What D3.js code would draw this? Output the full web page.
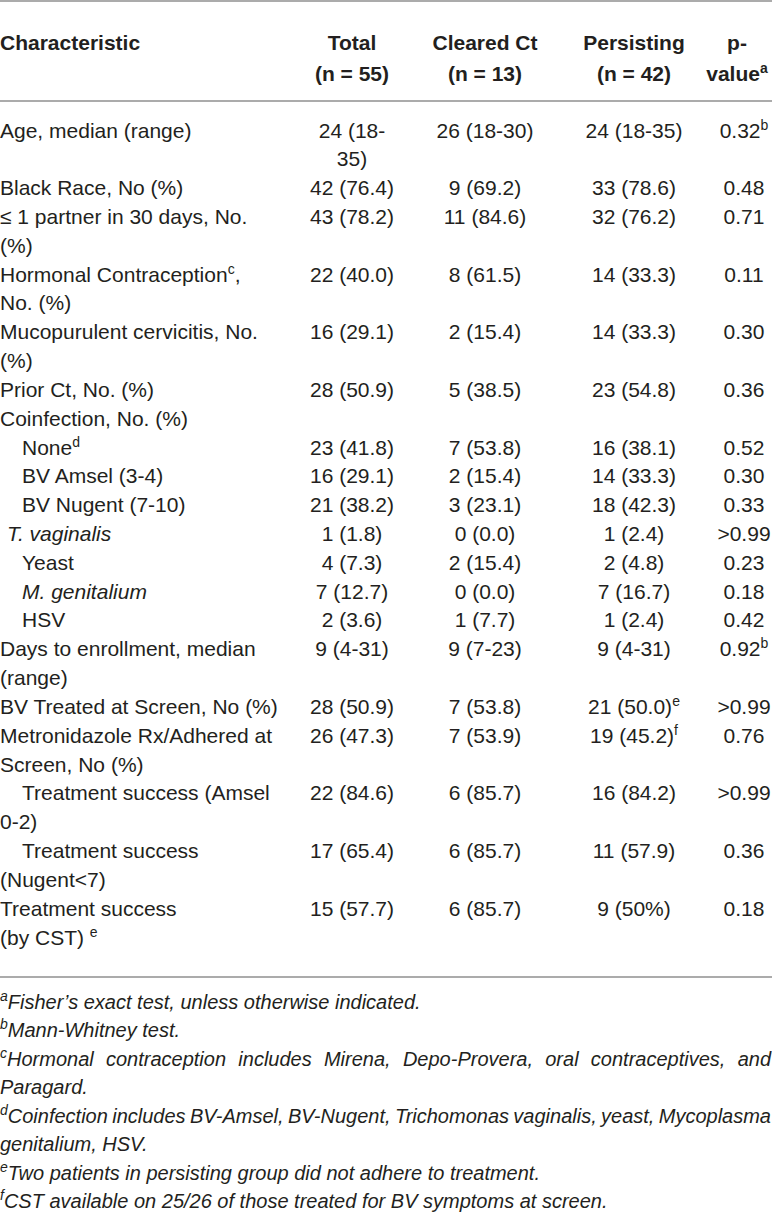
<!DOCTYPE html>
<html>
<head>
<meta charset="utf-8">
<script src="https://cdn.jsdelivr.net/npm/d3@7"></script>
<style>
  body { margin: 0; background: #fff; }
  text { font-family: "Liberation Sans", Arial, Helvetica, sans-serif; fill: #231f20; }
</style>
</head>
<body>
<div id="chart"></div>
<script>
// header cells, two lines each; "^x" marks a superscript
const headerTop = ["Characteristic", "Total", "Cleared Ct", "Persisting", "p-"];
const headerBottom = ["", "(n = 55)", "(n = 13)", "(n = 42)", "value^a"];

// row labels, already broken into the lines used in the table
const labels = [
  ["Age, median (range)"],
  ["Black Race, No (%)"],
  ["\u2264 1 partner in 30 days, No.", "(%)"],
  ["Hormonal Contraception^c,", "No. (%)"],
  ["Mucopurulent cervicitis, No.", "(%)"],
  ["Prior Ct, No. (%)"],
  ["Coinfection, No. (%)"],
  ["None^d"],
  ["BV Amsel (3-4)"],
  ["BV Nugent (7-10)"],
  ["T. vaginalis"],
  ["Yeast"],
  ["M. genitalium"],
  ["HSV"],
  ["Days to enrollment, median", "(range)"],
  ["BV Treated at Screen, No (%)"],
  ["Metronidazole Rx/Adhered at", "Screen, No (%)"],
  ["Treatment success (Amsel", "0-2)"],
  ["Treatment success", "(Nugent<7)"],
  ["Treatment success", "(by CST) ^e"]
];
// indent of the first label line: 0 none, 1 small, 2 sub-item
const indents = [0, 0, 0, 0, 0, 0, 0, 2, 2, 2, 1, 2, 2, 2, 0, 0, 0, 2, 2, 0];
const italicRows = [10, 12];

const totals = [["24 (18-", "35)"], "42 (76.4)", "43 (78.2)", "22 (40.0)", "16 (29.1)", "28 (50.9)", "",
  "23 (41.8)", "16 (29.1)", "21 (38.2)", "1 (1.8)", "4 (7.3)", "7 (12.7)", "2 (3.6)",
  "9 (4-31)", "28 (50.9)", "26 (47.3)", "22 (84.6)", "17 (65.4)", "15 (57.7)"];
const cleared = ["26 (18-30)", "9 (69.2)", "11 (84.6)", "8 (61.5)", "2 (15.4)", "5 (38.5)", "",
  "7 (53.8)", "2 (15.4)", "3 (23.1)", "0 (0.0)", "2 (15.4)", "0 (0.0)", "1 (7.7)",
  "9 (7-23)", "7 (53.8)", "7 (53.9)", "6 (85.7)", "6 (85.7)", "6 (85.7)"];
const persisting = ["24 (18-35)", "33 (78.6)", "32 (76.2)", "14 (33.3)", "14 (33.3)", "23 (54.8)", "",
  "16 (38.1)", "14 (33.3)", "18 (42.3)", "1 (2.4)", "2 (4.8)", "7 (16.7)", "1 (2.4)",
  "9 (4-31)", "21 (50.0)^e", "19 (45.2)^f", "16 (84.2)", "11 (57.9)", "9 (50%)"];
const pValues = ["0.32^b", "0.48", "0.71", "0.11", "0.30", "0.36", "",
  "0.52", "0.30", "0.33", ">0.99", "0.23", "0.18", "0.42",
  "0.92^b", ">0.99", "0.76", ">0.99", "0.36", "0.18"];

// footnotes, line by line; all lines but the last of a note are justified
const footnotes = [
  ["^aFisher\u2019s exact test, unless otherwise indicated."],
  ["^bMann-Whitney test."],
  ["^cHormonal contraception includes Mirena, Depo-Provera, oral contraceptives, and", "Paragard."],
  ["^dCoinfection includes BV-Amsel, BV-Nugent, Trichomonas vaginalis, yeast, Mycoplasma", "genitalium, HSV."],
  ["^eTwo patients in persisting group did not adhere to treatment."],
  ["^fCST available on 25/26 of those treated for BV symptoms at screen."]
];

const width = 772, height = 1212;
const svg = d3.select("#chart").append("svg").attr("width", width).attr("height", height);

const columns = ["label", "total", "cleared", "persisting", "p"];
const colX = d3.scaleOrdinal().domain(columns).range([0, 352, 485, 634, 744]);
const headX = d3.scaleOrdinal().domain(columns).range([0, 352, 485, 634, 737]);
const indentX = d3.scaleOrdinal().domain([0, 1, 2]).range([0, 7, 22]);

const asLines = v => Array.isArray(v) ? v : [v];

// lay out rows: each row takes as many lines as its tallest cell
let lineCursor = 0;
const rows = labels.map((lab, i) => {
  const cells = [lab, asLines(totals[i]), asLines(cleared[i]), asLines(persisting[i]), asLines(pValues[i])];
  const n = d3.max(cells, c => c.length);
  const r = { i, cells, start: lineCursor };
  lineCursor += n;
  return r;
});

const bodyY = d3.scaleLinear().domain([0, lineCursor - 1]).range([130, 937]);
const headY = d3.scaleLinear().domain([0, 1]).range([43, 74]);
const noteLines = d3.sum(footnotes, f => f.length);
const noteY = d3.scaleLinear().domain([0, noteLines - 1]).range([1002, 1201]);

function rich(sel, str, supSize) {
  const parts = str.split(/(\^\w)/).filter(p => p !== "");
  let raised = false;
  parts.forEach(p => {
    if (p[0] === "^") {
      sel.append("tspan").attr("font-size", supSize).attr("dy", -8).text(p.slice(1));
      raised = true;
    } else {
      const t = sel.append("tspan").text(p);
      if (raised) { t.attr("dy", 8); raised = false; }
    }
  });
}

function rule(y) {
  svg.append("line").attr("x1", 0).attr("x2", width).attr("y1", y).attr("y2", y)
    .attr("stroke", "#8f8f8f").attr("stroke-width", 1.5);
}

rule(1);
rule(101);
rule(977);

// header
const head = svg.append("g").attr("font-weight", "bold").attr("font-size", 21);
[headerTop, headerBottom].forEach((line, li) => {
  line.forEach((txt, ci) => {
    if (!txt) return;
    const t = head.append("text")
      .attr("x", headX(columns[ci]))
      .attr("y", headY(li) + 7)
      .attr("text-anchor", ci === 0 ? "start" : "middle");
    rich(t, txt, 14);
  });
});

// body
const body = svg.append("g").attr("font-size", 21);
rows.forEach(r => {
  r.cells.forEach((cell, ci) => {
    cell.forEach((txt, li) => {
      if (!txt) return;
      let x = colX(columns[ci]);
      if (ci === 0 && li === 0) x += indentX(indents[r.i]);
      const t = body.append("text")
        .attr("x", x)
        .attr("y", bodyY(r.start + li) + 7.5)
        .attr("text-anchor", ci === 0 ? "start" : "middle");
      if (ci === 0 && italicRows.includes(r.i)) t.attr("font-style", "italic");
      rich(t, txt, 14);
    });
  });
});

// footnotes
const notes = svg.append("g").attr("font-size", 20).attr("font-style", "italic");
let k = 0;
footnotes.forEach(note => {
  note.forEach((txt, li) => {
    const t = notes.append("text").attr("x", 0).attr("y", noteY(k) + 7);
    rich(t, txt, 14);
    if (li < note.length - 1) {
      const spaces = (txt.match(/ /g) || []).length;
      const len = t.node().getComputedTextLength();
      t.attr("word-spacing", (width - 1 - len) / spaces);
    }
    k++;
  });
});
</script>
</body>
</html>
